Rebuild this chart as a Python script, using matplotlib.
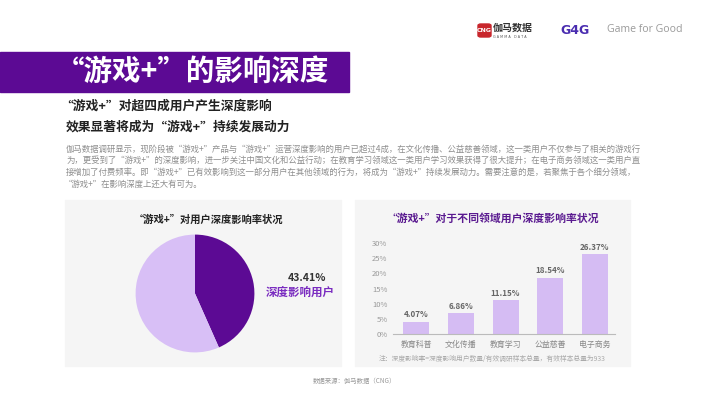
import matplotlib
matplotlib.use("Agg")
import matplotlib.pyplot as plt
from matplotlib.patches import Rectangle, FancyBboxPatch
import numpy as np

plt.rcParams['font.family'] = ['Noto Sans CJK SC', 'DejaVu Sans']

# data
pie_labels = ["深度影响用户", "其他用户"]
pie_values = [43.41, 56.59]
fields = ["教育科普", "文化传播", "教育学习", "公益慈善", "电子商务"]
field_rates = [4.07, 6.86, 11.15, 18.54, 26.37]
y_ticks = [0, 5, 10, 15, 20, 25, 30]

title = "“游戏+”的影响深度"
sub_1 = "“游戏+”对超四成用户产生深度影响"
sub_2 = "效果显著将成为“游戏+”持续发展动力"
para = [
    "伽马数据调研显示，现阶段被“游戏+”产品与“游戏+”运营深度影响的用户已超过4成，在文化传播、公益慈善领域，这一类用户不仅参与了相关的游戏行",
    "为，更受到了“游戏+”的深度影响，进一步关注中国文化和公益行动；在教育学习领域这一类用户学习效果获得了很大提升；在电子商务领域这一类用户直",
    "接增加了付费频率。即“游戏+”已有效影响到这一部分用户在其他领域的行为，将成为“游戏+”持续发展动力。需要注意的是，若聚焦于各个细分领域，",
    "“游戏+”在影响深度上还大有可为。",
]
pie_title = "“游戏+”对用户深度影响率状况"
bar_title = "“游戏+”对于不同领域用户深度影响率状况"
note = "注：深度影响率=深度影响用户数量/有效调研样本总量，有效样本总量为933"
source = "数据来源：伽马数据（CNG）"

dark_purple = '#5C0A94'
light_purple = '#D8BFF6'
bar_color = '#D5BCF3'

W, H = 710, 399
fig = plt.figure(figsize=(W / 100, H / 100), dpi=100)
fig.patch.set_facecolor('white')


def fx(x):
    return x / W


def fy(y):
    return 1 - y / H


def box(x0, y0, x1, y1):
    return [fx(x0), fy(y1), (x1 - x0) / W, (y1 - y0) / H]


# header banner
fig.add_artist(Rectangle((fx(0), fy(92)), fx(349), (92 - 52) / H,
                         transform=fig.transFigure, color=dark_purple, zorder=0))
fig.text(fx(56), fy(72), title, color='white', fontsize=20.5, fontweight='bold',
         ha='left', va='center')

# logos
fig.add_artist(FancyBboxPatch((fx(478), fy(37)), 13 / W, 13 / H,
                              boxstyle="round,pad=0.0,rounding_size=0.004",
                              transform=fig.transFigure, color='#C8262C'))
fig.text(fx(484.5), fy(30.5), "CNG", color='white', fontsize=4.5, fontweight='bold',
         ha='center', va='center', family='DejaVu Sans')
fig.text(fx(493), fy(28), "伽马数据", color='#333333', fontsize=7.2, fontweight='bold',
         ha='left', va='center')
fig.text(fx(493), fy(36.5), "G A M M A   D A T A", color='#555555', fontsize=2.4,
         ha='left', va='center', family='DejaVu Sans')
fig.text(fx(560), fy(30), "G4G", color='#4A2DB0', fontsize=9, fontweight='bold',
         ha='left', va='center', family='DejaVu Sans')
fig.text(fx(607), fy(30), "Game for Good", color='#9A9A9A', fontsize=7.6,
         ha='left', va='center', family='Open Sans')

# subtitles and paragraph
fig.text(fx(60), fy(106), sub_1, color='#222222', fontsize=9.2, fontweight='bold',
         ha='left', va='center')
fig.text(fx(66), fy(127), sub_2, color='#222222', fontsize=9.2, fontweight='bold',
         ha='left', va='center')
for i, line in enumerate(para):
    x0 = 66 if i < 3 else 64
    fig.text(fx(x0), fy(149 + i * 11.7), line, color='#8E8E8E', fontsize=6.05,
             ha='left', va='center')

# panels
for x0, x1 in [(65, 341), (355, 630)]:
    fig.add_artist(Rectangle((fx(x0), fy(366)), (x1 - x0) / W, (366 - 200) / H,
                             transform=fig.transFigure, color='#F5F5F5', zorder=0))

# pie panel
fig.text(fx(208), fy(220), pie_title, color='#222222', fontsize=7.4, fontweight='bold',
         ha='center', va='center')
ax_pie = fig.add_axes(box(135, 234, 255, 353))
ax_pie.pie(pie_values, colors=[dark_purple, light_purple], startangle=90,
           counterclock=False, radius=1.0)
ax_pie.set_xlim(-1.01, 1.01)
ax_pie.set_ylim(-1.01, 1.01)
ax_pie.set_aspect('auto')
ax_pie.axis('off')
fig.text(fx(307), fy(278), f"{pie_values[0]:.2f}%", color='#333333', fontsize=7.6,
         fontweight='bold', ha='center', va='center')
fig.text(fx(300), fy(292), pie_labels[0], color='#7A2CC0', fontsize=8.3,
         fontweight='bold', ha='center', va='center')

# bar panel
fig.text(fx(493), fy(218), bar_title, color='#5A1A90', fontsize=7.8, fontweight='bold',
         ha='center', va='center')
ax = fig.add_axes(box(393, 243, 615, 334))
ax.set_facecolor('none')
x = np.arange(len(fields))
bars = ax.bar(x, field_rates, width=0.58, color=bar_color)
for b, v in zip(bars, field_rates):
    ax.text(b.get_x() + b.get_width() / 2, v + 0.8, f"{v:.2f}%", ha='center',
            va='bottom', fontsize=5.8, fontweight='bold', color='#666666')
ax.set_xlim(-0.52, 4.45)
ax.set_ylim(0, 30)
ax.set_yticks(y_ticks)
ax.set_yticklabels([f"{t}%" for t in y_ticks], fontsize=5.5, color='#999999')
ax.set_xticks(x)
ax.set_xticklabels(fields, fontsize=5.7, color='#888888')
ax.tick_params(axis='both', length=0, pad=4)
for s in ['top', 'right', 'left']:
    ax.spines[s].set_visible(False)
ax.spines['bottom'].set_color('#BBBBBB')
ax.spines['bottom'].set_linewidth(0.8)
fig.text(fx(492), fy(359), note, color='#AAAAAA', fontsize=4.9, ha='center', va='center')

# footer
fig.text(fx(354), fy(381), source, color='#999999', fontsize=4.6, ha='center', va='center')

fig.savefig("out.png", dpi=100)
